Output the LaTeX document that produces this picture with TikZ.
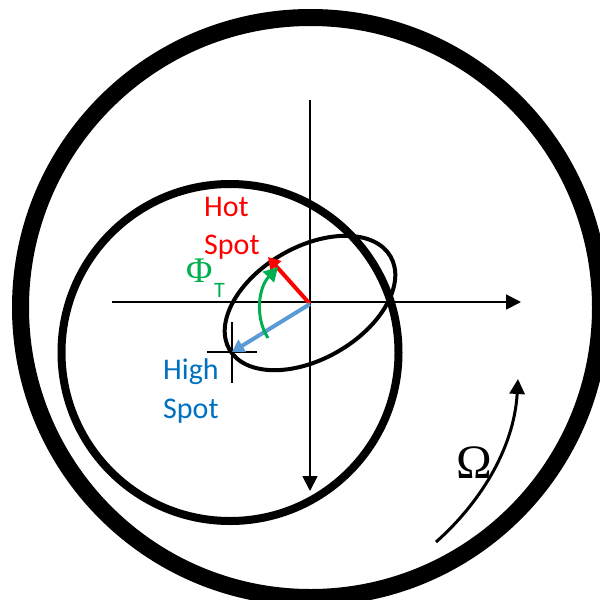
\documentclass[tikz,border=0pt]{standalone}
\usepackage{fontspec}
\setmainfont{Carlito}
\newfontfamily\serifgr{Liberation Serif}
\usetikzlibrary{arrows.meta}
\definecolor{hotred}{HTML}{FF0000}
\definecolor{phigreen}{HTML}{00B050}
\definecolor{arrblue}{HTML}{5B9BD5}
\definecolor{txtblue}{HTML}{0070C0}
\tikzset{
  ring/.style={draw=black, line width=#1},
  axisline/.style={draw=black, line width=1.8pt, -{Triangle[length=15pt,width=15pt]}},
  vecarrow/.style={line width=4pt, -{Triangle[length=12pt,width=14pt]}},
  lbl/.style={inner sep=0pt, anchor=base west, font=\fontsize{30}{36}\selectfont},
}
\begin{document}
\begin{tikzpicture}[x=1pt,y=-1pt]
\useasboundingbox (0,0) rectangle (600,600);
\clip (0,0) rectangle (600,600);
\fill[white] (0,0) rectangle (600,600);
% key points
\coordinate (O) at (310,304);
\coordinate (Oc) at (310.5,307.5);
\coordinate (Ic) at (230,352.5);
\coordinate (xl) at (112,302);
\coordinate (xr) at (521,302);
\coordinate (yt) at (310,100);
\coordinate (yb) at (310,491);
\coordinate (hotT) at (268,257);
\coordinate (highT) at (232,352);
\coordinate (phiS) at (268,338);
\coordinate (phiE) at (278,267);
\coordinate (omS) at (436,542);
\coordinate (omE) at (518,379);
\coordinate (ch1) at (207,352);
\coordinate (ch2) at (257,352);
\coordinate (cv1) at (232,322);
\coordinate (cv2) at (232,383);
% outer and inner circles
\draw[ring=17pt] (Oc) circle [radius=290];
\draw[ring=8pt] (Ic) circle [radius=168.5];
% axes
\draw[axisline] (xl) -- (xr);
\draw[axisline] (yt) -- (yb);
% ellipse
\draw[line width=4pt, rotate around={30:(310,303)}] (310,303) ellipse [x radius=93, y radius=56];
% cross at high spot
\draw[line width=1.5pt] (ch1) -- (ch2);
\draw[line width=1.5pt] (cv1) -- (cv2);
% vectors
\draw[vecarrow, draw=hotred, fill=hotred] (O) -- (hotT);
\draw[vecarrow, draw=arrblue, fill=arrblue] (O) -- (highT);
% phase arc
\draw[phigreen, line width=3pt, -{Triangle[length=14pt,width=15pt]}] (phiS) .. controls (255,318) and (258,288) .. (phiE);
% rotation arrow
\draw[line width=3pt, -{Triangle[length=15pt,width=15pt]}] (omS) .. controls (478,505) and (514,450) .. (omE);
% labels
\node[lbl, text=hotred] (hot1) at (204,216) {Hot};
\node[lbl, text=hotred] (hot2) at (204,254) {Spot};
\node[lbl, text=txtblue] (high1) at (163,379) {High};
\node[lbl, text=txtblue] (high2) at (163,418) {Spot};
\node[inner sep=0pt, anchor=base west, text=phigreen, font=\serifgr\fontsize{36}{40}\selectfont] (phi) at (186,282) {Φ};
\node[inner sep=0pt, anchor=base west, text=phigreen, font=\fontsize{22}{24}\selectfont] (phisub) at (214,297) {T};
\node[inner sep=0pt, anchor=base west, font=\serifgr\fontsize{48}{52}\selectfont] (om) at (456,478) {Ω};
\end{tikzpicture}
\end{document}
